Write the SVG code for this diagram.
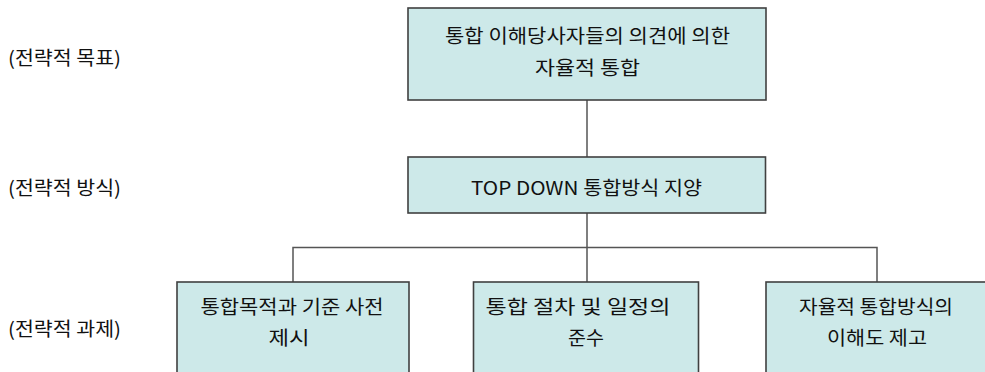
<svg xmlns="http://www.w3.org/2000/svg" width="985" height="372" viewBox="0 0 985 372">
<style>
.box{fill:#cde9e9;stroke:#404040;stroke-width:1.6}
.t{font-family:"Noto Sans CJK KR","Liberation Sans",sans-serif;font-size:19px;fill:#111;text-anchor:middle}
.lab{font-family:"Noto Sans CJK KR","Liberation Sans",sans-serif;font-size:19px;fill:#111}
.c{stroke:#555;stroke-width:1.5;fill:none}
</style>
<rect width="985" height="372" fill="#fff"/>
<g id="connectors">
<line class="c" x1="587" y1="100" x2="587" y2="157"/>
<line class="c" x1="587" y1="213" x2="587" y2="282"/>
<polyline class="c" points="293,282 293,247.5 877,247.5 877,282"/>
</g>
<g id="label-goal"><text class="lab" x="8" y="65" textLength="113" lengthAdjust="spacingAndGlyphs">(전략적 목표)</text></g>
<g id="label-method"><text class="lab" x="8" y="195" textLength="113" lengthAdjust="spacingAndGlyphs">(전략적 방식)</text></g>
<g id="label-task"><text class="lab" x="8" y="336" textLength="113" lengthAdjust="spacingAndGlyphs">(전략적 과제)</text></g>
<g id="node-goal">
<rect class="box" x="408" y="8" width="358" height="92"/>
<text class="t" x="587.5" y="43" textLength="285" lengthAdjust="spacingAndGlyphs">통합 이해당사자들의 의견에 의한</text>
<text class="t" x="587.5" y="75" textLength="105" lengthAdjust="spacingAndGlyphs">자율적 통합</text>
</g>
<g id="node-method">
<rect class="box" x="408" y="157" width="357.5" height="56"/>
<text class="t" x="586.5" y="195" textLength="231" lengthAdjust="spacingAndGlyphs">TOP DOWN 통합방식 지양</text>
</g>
<g id="node-task1">
<rect class="box" x="177" y="282" width="232" height="100"/>
<text class="t" x="292" y="314" textLength="183" lengthAdjust="spacingAndGlyphs">통합목적과 기준 사전</text>
<text class="t" x="289" y="345" textLength="41" lengthAdjust="spacingAndGlyphs">제시</text>
</g>
<g id="node-task2">
<rect class="box" x="473.5" y="282" width="225" height="100"/>
<text class="t" x="578" y="314" textLength="185" lengthAdjust="spacingAndGlyphs">통합 절차 및 일정의</text>
<text class="t" x="586" y="345" textLength="36" lengthAdjust="spacingAndGlyphs">준수</text>
</g>
<g id="node-task3">
<rect class="box" x="766" y="282" width="224" height="100"/>
<text class="t" x="876" y="314" textLength="154" lengthAdjust="spacingAndGlyphs">자율적 통합방식의</text>
<text class="t" x="877" y="345" textLength="100" lengthAdjust="spacingAndGlyphs">이해도 제고</text>
</g>
</svg>
